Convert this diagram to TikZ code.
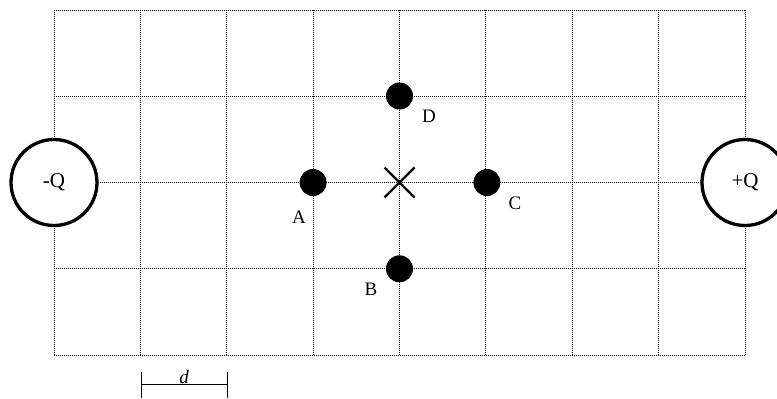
\documentclass[tikz,border=0pt]{standalone}
\usepackage{fontspec}
\setmainfont{Liberation Serif}
\usetikzlibrary{calc}
\begin{document}
\begin{tikzpicture}[x=1pt,y=-1pt,
  gridline/.style={line width=0.8pt, dash pattern=on 1pt off 1pt},
  charge/.style={circle, draw, line width=3.3pt, minimum size=86pt, inner sep=0pt, font=\fontsize{21}{24}\selectfont},
  dot/.style={circle, fill=black, minimum size=27pt, inner sep=0pt},
  lab/.style={font=\fontsize{19}{22}\selectfont, inner sep=0pt}]
\useasboundingbox (0,0) rectangle (777,399);
\foreach \i in {0,...,8} {
  \draw[gridline] ({54+\i*86.375},10) -- ({54+\i*86.375},355);
}
\foreach \j in {0,...,4} {
  \draw[gridline] (54,{10+\j*86.25}) -- (745,{10+\j*86.25});
}
\node[charge, fill=white] (qm) at (54,182.5) {-Q};
\node[charge, fill=white] (qp) at (745,182.5) {+Q};
\node[dot] (A) at (313.1,182.5) {};
\node[dot] (C) at (486.9,182.5) {};
\node[dot] (D) at (399.5,96) {};
\node[dot] (B) at (399.5,268.8) {};
\coordinate (X) at (399.5,182.5);
\draw[line width=2.4pt] ($(X)+(-15,-15)$) -- ($(X)+(15,15)$);
\draw[line width=2.4pt] ($(X)+(-15,15)$) -- ($(X)+(15,-15)$);
\node[lab] (la) at (299,217) {A};
\node[lab] (ld) at (429,116) {D};
\node[lab] (lc) at (515,203) {C};
\node[lab] (lb) at (371,289) {B};
\node[lab] (ldd) at (184,377) {\itshape d};
\coordinate (b1) at (141,384);
\coordinate (b2) at (227,384);
\draw[line width=1pt] (b1) -- (b2);
\draw[line width=1pt] ($(b1)+(0,-12)$) -- ($(b1)+(0,14)$);
\draw[line width=1pt] ($(b2)+(0,-12)$) -- ($(b2)+(0,14)$);
\end{tikzpicture}
\end{document}
